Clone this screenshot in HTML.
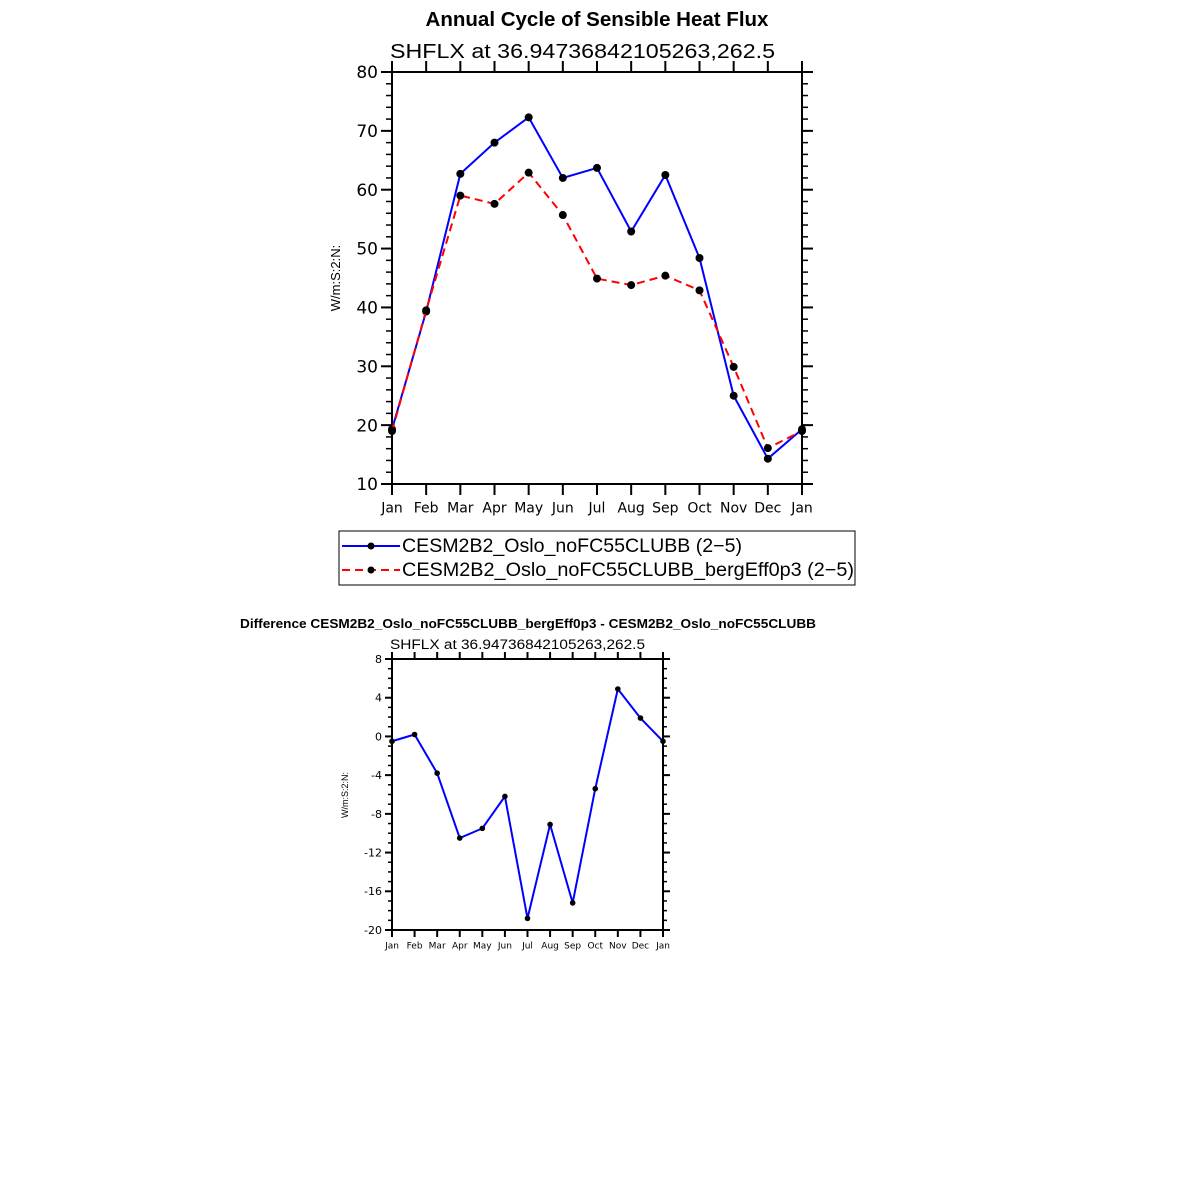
<!DOCTYPE html>
<html><head><meta charset="utf-8"><style>
html,body{margin:0;padding:0;background:#fff;}
svg{display:block;font-family:"Liberation Sans","DejaVu Sans",sans-serif;}
</style></head><body>
<svg id="chart" width="1183" height="1183" viewBox="0 0 1183 1183">
<text x="597" y="26" text-anchor="middle" font-size="20.5" font-weight="bold">Annual Cycle of Sensible Heat Flux</text>
<text x="390" y="58" font-size="20" textLength="385" lengthAdjust="spacingAndGlyphs">SHFLX  at  36.94736842105263,262.5</text>
<text transform="translate(340,278) rotate(-90)" text-anchor="middle" font-size="13">W/m:S:2:N:</text>
<g id="top"></g>
<g>
<rect x="339" y="531" width="516" height="54" fill="none" stroke="#000" stroke-width="1"/>
<g>
<line x1="342" y1="546" x2="400" y2="546" stroke="#0000ff" stroke-width="2"/>
<circle cx="371" cy="546" r="3.5" fill="#000"/>
<text x="402" y="552" font-size="19" textLength="340" lengthAdjust="spacingAndGlyphs">CESM2B2_Oslo_noFC55CLUBB (2−5)</text></g>
<g>
<line x1="342" y1="570" x2="400" y2="570" stroke="#ff0000" stroke-width="2" stroke-dasharray="8,5"/>
<circle cx="371" cy="570" r="3.5" fill="#000"/>
<text x="402" y="576" font-size="19" textLength="452" lengthAdjust="spacingAndGlyphs">CESM2B2_Oslo_noFC55CLUBB_bergEff0p3 (2−5)</text></g>
</g>
<text x="240" y="628" font-size="13" font-weight="bold" textLength="576" lengthAdjust="spacingAndGlyphs">Difference CESM2B2_Oslo_noFC55CLUBB_bergEff0p3 - CESM2B2_Oslo_noFC55CLUBB</text>
<text x="390" y="649" font-size="13.5" textLength="255" lengthAdjust="spacingAndGlyphs">SHFLX  at  36.94736842105263,262.5</text>
<text transform="translate(348,795) rotate(-90)" text-anchor="middle" font-size="9">W/m:S:2:N:</text>
<g id="bot"></g>
</svg>
<script>
const months = ["Jan","Feb","Mar","Apr","May","Jun","Jul","Aug","Sep","Oct","Nov","Dec","Jan"];
const seriesBlue = [19.3,39.3,62.7,68.0,72.3,62.0,63.7,52.9,62.5,48.4,25.0,14.3,19.3];
const seriesRed = [19.0,39.5,59.0,57.6,62.9,55.7,44.9,43.8,45.4,42.9,29.9,16.1,19.0];
const seriesDiff = [-0.5,0.2,-3.8,-10.5,-9.5,-6.2,-18.8,-9.1,-17.2,-5.4,4.9,1.9,-0.5];
const topTicks = [10,20,30,40,50,60,70,80];
const botTicks = [-20,-16,-12,-8,-4,0,4,8];
const NS="http://www.w3.org/2000/svg";
function mk(parent,tag,attrs){const e=document.createElementNS(NS,tag);for(const k in attrs)e.setAttribute(k,attrs[k]);parent.appendChild(e);return e;}
function panel(g,L,R,T,B,ymin,ymax,ticks,minorStep,fs,mfs,majLen,minLen,series,prefix){
  const xs=i=>L+(R-L)*i/(months.length-1);
  const ys=v=>B-(B-T)*(v-ymin)/(ymax-ymin);
  const frame=mk(g,'rect',{x:L,y:T,width:R-L,height:B-T,fill:'none',stroke:'#000','stroke-width':2});
  
  
  for(let v=ymin;v<=ymax+1e-9;v+=minorStep){
    const y=ys(v);
    mk(g,'line',{x1:L-minLen,y1:y,x2:L,y2:y,stroke:'#000','stroke-width':1.5});
    mk(g,'line',{x1:R,y1:y,x2:R+minLen,y2:y,stroke:'#000','stroke-width':1.5});
  }
  ticks.forEach(v=>{
    const y=ys(v);
    mk(g,'line',{x1:L-majLen,y1:y,x2:L,y2:y,stroke:'#000','stroke-width':2});
    mk(g,'line',{x1:R,y1:y,x2:R+majLen,y2:y,stroke:'#000','stroke-width':2});
    const t=mk(g,'text',{x:L-majLen-3,y:y+fs*0.36,'text-anchor':'end','font-size':fs,'font-family':'DejaVu Sans'});
    t.textContent=v;
    
    
  });
  months.forEach((m,i)=>{
    const x=xs(i);
    mk(g,'line',{x1:x,y1:B,x2:x,y2:B+majLen,stroke:'#000','stroke-width':2});
    mk(g,'line',{x1:x,y1:T-majLen,x2:x,y2:T,stroke:'#000','stroke-width':2});
    const t=mk(g,'text',{x:x,y:B+majLen+mfs*1.25,'text-anchor':'middle','font-size':mfs,'font-family':'DejaVu Sans'});
    t.textContent=m;
    
    
  });
  series.forEach(s=>{
    const p=mk(g,'polyline',{points:s.data.map((v,i)=>xs(i)+','+ys(v)).join(' '),fill:'none',stroke:s.color,'stroke-width':2,'stroke-dasharray':s.dash||'none'});
    
    
    s.data.forEach((v,i)=>{
      const c=mk(g,'circle',{cx:xs(i),cy:ys(v),r:s.r,fill:'#000'});
      
      
    });
  });
}
panel(document.getElementById('top'),392,802,72,484,10,80,topTicks,2,17,14,11,6,
  [{data:seriesBlue,color:'#0000ff',name:'blue-series',r:4},{data:seriesRed,color:'#ff0000',dash:'8,5',name:'red-series',r:4}],'top');
panel(document.getElementById('bot'),392,663,659,930,-20,8,botTicks,1,11,9,7,4,
  [{data:seriesDiff,color:'#0000ff',name:'diff-series',r:2.8}],'bottom');
</script>
</body></html>
